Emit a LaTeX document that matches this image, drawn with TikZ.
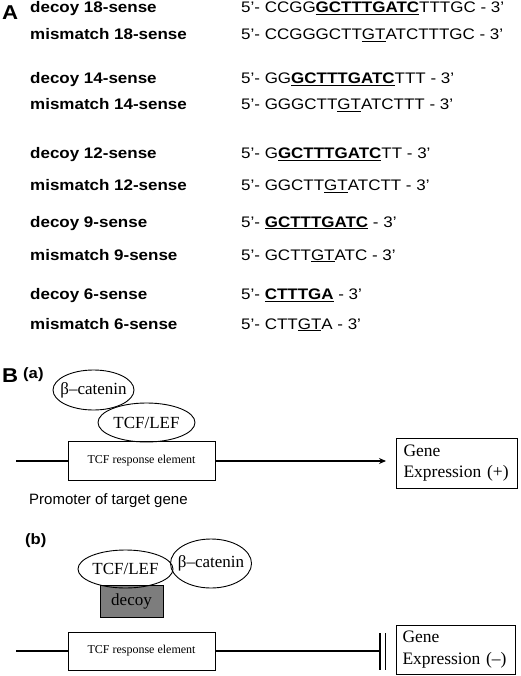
\documentclass[tikz,border=0pt]{standalone}
\usepackage{fontspec}
\setmainfont{Liberation Serif}
\newfontfamily\sqf[FakeStretch=1.11]{Liberation Sans}
\newfontfamily\plainsf{Liberation Sans}
\usetikzlibrary{shapes.geometric,arrows.meta}
\definecolor{decoygray}{RGB}{125,125,125}
\newsavebox\ulbox
\newcommand\myul[1]{\sbox\ulbox{#1}\rlap{\rule[-2.3pt]{\wd\ulbox}{1.1pt}}\usebox\ulbox}
\begin{document}
\begin{tikzpicture}[x=1pt,y=-1pt,
  lab/.style={anchor=base west, inner sep=0pt, font=\sqf\bfseries\fontsize{15.3}{18}\selectfont},
  seq/.style={anchor=base west, inner sep=0pt, font=\sqf\fontsize{15.3}{18}\selectfont},
  panel/.style={anchor=base west, inner sep=0pt, font=\sqf\bfseries\fontsize{20}{22}\selectfont},
  sub/.style={anchor=base west, inner sep=0pt, font=\sqf\bfseries\fontsize{15}{18}\selectfont},
  oval/.style={draw, line width=0.9pt, ellipse, inner xsep=-12pt, inner ysep=0pt, font=\fontsize{17}{19}\selectfont},
  tcfbox/.style={draw, line width=0.9pt, rectangle, minimum width=147pt, inner sep=0pt, font=\fontsize{12}{14}\selectfont},
  genebox/.style={draw, line width=0.9pt, rectangle, inner sep=0pt, align=left, text width=106pt, font=\fontsize{17.5}{21.5}\selectfont},
  dna/.style={line width=1.8pt},
]
\useasboundingbox (0,0) rectangle (520,676);

% ---- Panel A ----
\node[panel] (A) at (2,20) {A};
\node[lab] (l1) at (30,13) {decoy 18-sense};
\node[seq] (s1) at (241,13) {5’- CCGG\myul{\bfseries GCTTTGATC}TTTGC - 3’};
\node[lab] (l2) at (30,40) {mismatch 18-sense};
\node[seq] (s2) at (241,40) {5’- CCGGGCTT\myul{GT}ATCTTTGC - 3’};
\node[lab] (l3) at (30,84) {decoy 14-sense};
\node[seq] (s3) at (241,84) {5’- GG\myul{\bfseries GCTTTGATC}TTT - 3’};
\node[lab] (l4) at (30,110) {mismatch 14-sense};
\node[seq] (s4) at (241,110) {5’- GGGCTT\myul{GT}ATCTTT - 3’};
\node[lab] (l5) at (30,159) {decoy 12-sense};
\node[seq] (s5) at (241,159) {5’- G\myul{\bfseries GCTTTGATC}TT - 3’};
\node[lab] (l6) at (30,190.5) {mismatch 12-sense};
\node[seq] (s6) at (241,190.5) {5’- GGCTT\myul{GT}ATCTT - 3’};
\node[lab] (l7) at (30,227) {decoy 9-sense};
\node[seq] (s7) at (241,227) {5’- \myul{\bfseries GCTTTGATC} - 3’};
\node[lab] (l8) at (30,260) {mismatch 9-sense};
\node[seq] (s8) at (241,260) {5’- GCTT\myul{GT}ATC - 3’};
\node[lab] (l9) at (30,299.5) {decoy 6-sense};
\node[seq] (s9) at (241,299.5) {5’- \myul{\bfseries CTTTGA} - 3’};
\node[lab] (l10) at (30,329) {mismatch 6-sense};
\node[seq] (s10) at (241,329) {5’- CTT\myul{GT}A - 3’};

% ---- Panel B (a) ----
\node[panel] (B) at (2,382) {B};
\node[sub] (pa) at (23,378) {(a)};
\node[oval, minimum width=81pt, minimum height=40pt] (bca) at (93.5,390) {β–catenin};
\node[oval, minimum width=97pt, minimum height=39pt] (tcfa) at (146.5,422.5) {TCF/LEF};
\node[tcfbox, minimum height=39pt] (rea) at (141.5,461) {TCF response element};
\node[genebox, minimum width=121pt, minimum height=50pt] (gpa) at (456.5,463) {Gene\\Expression (+)};
\coordinate (la) at (16,461);
\coordinate (ae) at (386,461);
\draw[dna] (la) -- (rea.west);
\draw[dna, -{Stealth[length=7pt,width=6pt]}] (rea.east) -- (ae);
\node[anchor=base west, inner sep=0pt, font=\plainsf\fontsize{15}{18}\selectfont] (prom) at (29,504) {Promoter of target gene};

% ---- Panel B (b) ----
\node[sub] (pb) at (25,544) {(b)};
\node[draw, line width=0.6pt, fill=decoygray, minimum width=63pt, minimum height=32pt, inner sep=0pt, font=\fontsize{17}{19}\selectfont] (dec) at (131.5,601) {decoy};
\node[oval, minimum width=95pt, minimum height=38pt] (tcfb) at (125.5,569) {TCF/LEF};
\node[oval, minimum width=81pt, minimum height=49pt] (bcb) at (211,563.5) {β–catenin};
\node[tcfbox, minimum height=38pt] (reb) at (141.5,651) {TCF response element};
\node[genebox, minimum width=119pt, minimum height=49pt] (gmb) at (455.5,649.5) {Gene\\Expression (–)};
\coordinate (lb) at (16,651);
\coordinate (bar1) at (380,651);
\coordinate (bar1t) at (380,633);
\coordinate (bar1b) at (380,670);
\coordinate (bar2t) at (385.5,633);
\coordinate (bar2b) at (385.5,670);
\draw[dna] (lb) -- (reb.west);
\draw[dna] (reb.east) -- (bar1);
\draw[line width=1.6pt] (bar1t) -- (bar1b);
\draw[line width=1.6pt] (bar2t) -- (bar2b);
\end{tikzpicture}
\end{document}
